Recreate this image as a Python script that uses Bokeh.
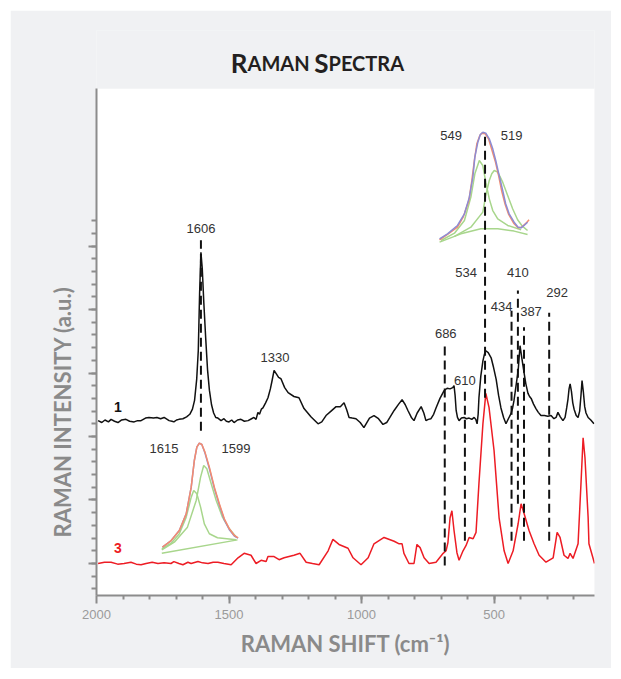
from bokeh.plotting import figure
from bokeh.models import Range1d, FixedTicker, Label, ColumnDataSource, Title, BoxAnnotation
from bokeh.embed import file_html
from bokeh.resources import INLINE
from bokeh.core.properties import value

# ---------------------------------------------------------------------------
# Spectrum 1 (black): Raman shift (cm-1) and intensity (a.u.)
wn_1 = [1994, 1980, 1968, 1955, 1945, 1932, 1919, 1905, 1889, 1875, 1858, 1845,
        1832, 1815, 1802, 1785, 1772, 1758, 1745, 1726, 1715, 1708, 1698, 1689,
        1674, 1660, 1648, 1638, 1630, 1622, 1616, 1611, 1606, 1601, 1595, 1588,
        1581, 1574, 1566, 1558, 1550, 1542, 1530, 1519, 1510, 1500, 1490, 1481,
        1468, 1455, 1442, 1428, 1415, 1406, 1398, 1391, 1385, 1378, 1372, 1362,
        1353, 1344, 1338, 1330, 1322, 1313, 1304, 1290, 1277, 1255, 1236, 1217,
        1191, 1164, 1150, 1134, 1115, 1096, 1080, 1066, 1056, 1047, 1035, 1021,
        1005, 991, 980, 970, 953, 936, 919, 905, 893, 877, 860, 847, 835, 825,
        812, 802, 790, 775, 765, 757, 748, 738, 728, 719, 704, 689, 677, 666,
        656, 651, 647, 643, 638, 632, 623, 613, 604, 594, 584, 575, 569, 564,
        560, 557, 550, 542, 536, 531, 522, 511, 502, 492, 483, 474, 464, 455,
        446, 436, 430, 425, 417, 409, 402, 395, 387, 380, 372, 366, 360, 351,
        342, 333, 323, 310, 297, 285, 274, 266, 259, 250, 240, 232, 226, 221,
        217, 213, 208, 203, 198, 190, 183, 177, 172, 168, 163, 158, 153, 145,
        135, 123]
int_1 = [0.00, -0.03, 0.01, -0.02, 0.02, -0.01, -0.03, 0.01, 0.02, -0.01, -0.02, 0.00,
         0.00, 0.04, 0.05, 0.04, 0.05, 0.03, 0.05, 0.00, -0.01, -0.02, 0.01, 0.02,
         0.03, 0.06, 0.10, 0.18, 0.32, 0.65, 1.10, 2.00, 2.65, 2.40, 1.85, 1.30,
         0.80, 0.48, 0.25, 0.12, 0.05, 0.04, 0.00, 0.03, -0.01, -0.02, 0.01, -0.03,
         0.01, 0.02, -0.01, 0.00, 0.03, 0.05, 0.02, 0.13, 0.10, 0.18, 0.20, 0.28,
         0.36, 0.50, 0.62, 0.79, 0.74, 0.68, 0.66, 0.52, 0.44, 0.38, 0.36, 0.19,
         0.06, -0.05, -0.02, 0.08, 0.15, 0.22, 0.22, 0.28, 0.17, 0.05, 0.04, 0.03,
         -0.03, -0.11, -0.03, 0.04, 0.08, 0.03, -0.06, -0.03, 0.05, 0.16, 0.26, 0.33, 0.25, 0.16,
         0.05, 0.00, 0.12, 0.22, 0.12, 0.00, 0.02, 0.03, 0.10, 0.20, 0.35, 0.47, 0.51, 0.50,
         0.52, 0.55, 0.40, 0.16, 0.05, 0.00, 0.04, 0.05, 0.03, 0.04, 0.02, 0.05, 0.02, -0.05,
         0.10, 0.36, 0.70, 0.94, 1.05, 1.10, 1.07, 0.99, 0.84, 0.65, 0.40, 0.20, 0.05, -0.05,
         0.03, 0.11, 0.20, 0.31, 0.55, 0.79, 1.18, 0.98, 0.76, 0.58, 0.43, 0.38, 0.35, 0.26,
         0.19, 0.13, 0.08, 0.08, 0.07, 0.08, 0.03, 0.05, 0.13, 0.06, 0.00, 0.05, 0.20, 0.34,
         0.50, 0.58, 0.46, 0.28, 0.18, 0.08, 0.05, 0.15, 0.40, 0.63, 0.45, 0.22, 0.12, 0.05,
         0.01, -0.05]
offset_1 = 2.25  # vertical stacking offset of spectrum 1

# Spectrum 3 (red)
wn_3 = [1994, 1970, 1945, 1920, 1896, 1870, 1850, 1832, 1813, 1790,
        1768, 1745, 1719, 1708, 1689, 1674, 1655, 1643, 1617, 1600,
        1579, 1560, 1542, 1519, 1492, 1466, 1443, 1417, 1398, 1379,
        1360, 1353, 1330, 1311, 1292, 1255, 1232, 1209, 1185, 1160,
        1126, 1108, 1085, 1051, 1032, 1002, 975, 953, 915, 877,
        858, 847, 840, 821, 802, 791, 779, 764, 745, 719,
        692, 681, 674, 666, 659, 651, 640, 632, 617, 606,
        594, 579, 568, 557, 542, 531, 519, 500, 481, 462,
        447, 428, 409, 398, 387, 368, 349, 330, 304, 277,
        262, 251, 236, 221, 213, 202, 183, 172, 164, 157,
        145, 142, 127, 121]
int_3 = [0.00, 0.02, 0.02, -0.01, 0.00, 0.02, -0.01, -0.02, 0.00, 0.02,
         0.00, 0.01, 0.00, 0.03, 0.00, -0.02, 0.02, 0.00, 0.03, 0.01,
         0.00, 0.02, 0.02, 0.00, -0.02, 0.09, 0.16, 0.13, 0.00, 0.05,
         0.03, 0.11, 0.11, 0.06, 0.09, 0.13, 0.16, 0.02, 0.00, -0.02,
         0.20, 0.38, 0.30, 0.24, 0.09, -0.02, 0.09, 0.31, 0.41, 0.35,
         0.31, 0.31, 0.16, 0.00, 0.00, 0.30, 0.25, 0.09, 0.00, 0.02,
         0.16, 0.20, 0.33, 0.72, 0.83, 0.52, 0.17, 0.05, 0.20, 0.28,
         0.41, 0.39, 0.49, 1.26, 2.20, 2.68, 2.46, 1.78, 0.72, 0.20,
         0.00, 0.20, 0.63, 0.94, 0.79, 0.52, 0.31, 0.13, 0.02, 0.09,
         0.49, 0.41, 0.13, 0.08, 0.16, 0.08, 0.31, 1.26, 1.98, 1.67,
         0.72, 0.31, 0.09, 0.00]

# Assigned bands (dashed markers) with their vertical extent
band_wn = [1606, 686, 610, 534, 434, 410, 387, 292]
band_top = [5.09, 3.48, 2.76, 6.79, 3.98, 4.30, 3.72, 3.95]
band_bottom = [2.09, -0.03, 0.36, 2.61, 0.36, 0.94, 0.36, 0.36]

# Band labels
label_text = ["1606", "1330", "686", "610", "534", "434", "410", "387", "292"]
label_wn = [1606, 1330, 686, 610, 534, 434, 410, 387, 292]
label_int = [5.28, 3.24, 3.62, 2.88, 4.58, 4.05, 4.58, 3.97, 4.27]
label_dx = [0, 1, 1, 0, -19, -10, 0, 7, 8]

# Peak-fit inset near 534 cm-1: shift (cm-1) and normalised intensity
fitA_env_x = [629, 613, 593, 579, 569, 562, 558, 552, 547, 542, 536, 529, 522, 516,
              509, 502, 496, 489, 479, 471, 465, 459, 452]
fitA_env_v = [0.015, 0.061, 0.138, 0.245, 0.398, 0.581, 0.765, 0.902, 0.973, 0.994,
              0.985, 0.933, 0.841, 0.734, 0.596, 0.459, 0.337, 0.245, 0.168, 0.122,
              0.116, 0.138, 0.168]
fitA_sum_x = [629, 613, 593, 581, 570, 564, 559, 554, 548, 544, 537, 530, 524, 517,
              510, 504, 497, 490, 480, 471, 464, 455, 449]
fitA_sum_v = [0.006, 0.055, 0.122, 0.220, 0.367, 0.551, 0.734, 0.887, 0.963, 0.985,
              0.979, 0.927, 0.835, 0.728, 0.590, 0.453, 0.330, 0.239, 0.159, 0.116,
              0.122, 0.159, 0.190]
fitA_p1_x = [626, 599, 579, 566, 558, 549, 542, 536, 529, 522, 512, 492, 465]
fitA_p1_v = [0.000, 0.067, 0.184, 0.398, 0.612, 0.734, 0.688, 0.535, 0.382, 0.275,
             0.199, 0.138, 0.098]
fitA_p2_x = [599, 566, 542, 536, 529, 524, 519, 512, 502, 492, 482, 472, 462, 452]
fitA_p2_v = [0.037, 0.122, 0.260, 0.413, 0.551, 0.612, 0.642, 0.627, 0.535, 0.413,
             0.291, 0.190, 0.129, 0.092]
fitA_bg_x = [629, 586, 546, 512, 479, 452]
fitA_bg_v = [-0.015, 0.061, 0.107, 0.107, 0.086, 0.055]

# Peak-fit inset near 1606 cm-1
fitB_sum_x = [1665, 1651, 1638, 1627, 1619, 1614, 1610, 1606, 1602, 1597, 1590,
              1582, 1574, 1566, 1558, 1550, 1544]
fitB_sum_v = [0.054, 0.114, 0.205, 0.355, 0.596, 0.837, 0.958, 0.994, 0.982, 0.913,
              0.777, 0.596, 0.446, 0.310, 0.220, 0.160, 0.139]
fitB_env_v = [0.054, 0.114, 0.205, 0.355, 0.596, 0.837, 0.958, 0.994, 0.982, 0.905,
              0.765, 0.585, 0.435, 0.300, 0.212, 0.155, 0.136]
fitB_p1_x = [1666, 1651, 1638, 1627, 1619, 1615, 1610, 1604, 1598, 1590, 1577, 1547]
fitB_p1_v = [0.039, 0.090, 0.175, 0.325, 0.506, 0.566, 0.536, 0.416, 0.265, 0.175,
             0.139, 0.120]
fitB_p2_x = [1666, 1646, 1625, 1611, 1604, 1599, 1594, 1587, 1579, 1569, 1558, 1547]
fitB_p2_v = [0.030, 0.099, 0.235, 0.476, 0.687, 0.792, 0.762, 0.627, 0.476, 0.325,
             0.220, 0.145]
fitB_bg_x = [1666, 1545]
fitB_bg_v = [0.000, 0.120]

inset_labels = ["549", "519", "1615", "1599"]
inset_label_wn = [662, 434, 1745, 1474]
inset_label_int = [6.74, 6.74, 1.81, 1.81]

# where each inset sits on the main axes: (shift_left, shift_right, wn_left, wn_right, int_bottom, int_top)
INSET_A = (630, 451, 707.5, 371.7, 5.087, 6.803)
INSET_B = (1667.3, 1542.0, 1756.6, 1461.0, 0.163, 1.906)

X_LO, X_HI = 2000, 121      # Raman shift axis (reversed)
Y_LO, Y_HI = -0.504, 7.48   # extent of the intensity axis
Y_VIEW_HI = 8.394           # frame runs up into the title band


def place(xs, vs, box):
    lx0, lx1, wx0, wx1, i0, i1 = box
    k = (wx1 - wx0) / (lx1 - lx0)
    return [wx0 + (x - lx0) * k for x in xs], [i0 + v * (i1 - i0) for v in vs]


AXIS_GREY = "#8c8c8c"
PANEL = "#f0f1f3"
FONT = "Liberation Sans"
TITLE_FONT = "Lato"

p = figure(frame_width=498, frame_height=565,
           x_range=Range1d(X_LO, X_HI), y_range=Range1d(Y_LO, Y_VIEW_HI),
           output_backend="svg", toolbar_location=None,
           min_border_left=86, min_border_right=17, min_border_top=20, min_border_bottom=73,
           background_fill_color=PANEL, border_fill_color=PANEL,
           outline_line_color=None)
p.margin = (10, 10, 11, 10)
p.xgrid.visible = False
p.ygrid.visible = False

# white plotting area, grey title band above it
p.add_layout(BoxAnnotation(left=X_LO, right=X_HI, bottom=Y_LO, top=Y_HI,
                           fill_color="#ffffff", fill_alpha=1.0,
                           line_color=None, level="underlay"))
p.add_layout(BoxAnnotation(left=X_LO, right=X_HI, bottom=Y_HI, top=Y_VIEW_HI,
                           fill_color=PANEL, fill_alpha=1.0,
                           line_color=None, level="underlay"))

# axes
p.xaxis.ticker = FixedTicker(ticks=[2000, 1500, 1000, 500],
                             minor_ticks=list(range(1900, 150, -100)))
p.yaxis.ticker = FixedTicker(ticks=[0, 1, 2, 3, 4, 5],
                             minor_ticks=[round(-0.4 + 0.2 * i, 1) for i in range(30)])
p.yaxis.bounds = (Y_LO, Y_HI)
for ax in (p.xaxis, p.yaxis):
    ax.axis_line_color = AXIS_GREY
    ax.axis_line_width = 2
    ax.major_tick_line_color = AXIS_GREY
    ax.major_tick_line_width = 2
    ax.minor_tick_line_color = AXIS_GREY
    ax.minor_tick_line_width = 2
    ax.major_tick_in = 0
    ax.minor_tick_in = 0
    ax.major_tick_out = 8
p.xaxis.minor_tick_out = 4
p.yaxis.minor_tick_out = 5
p.xaxis.major_label_text_font = FONT
p.xaxis.major_label_text_font_size = "13px"
p.xaxis.major_label_text_color = "#9a9a9a"
p.xaxis.major_label_standoff = 6
p.yaxis.major_label_overrides = {i: "" for i in range(6)}
p.yaxis.major_label_text_font_size = "1px"

p.xaxis.axis_label = "RAMAN SHIFT (cm\u207b\u00b9)"
p.xaxis.axis_label_text_font = TITLE_FONT
p.xaxis.axis_label_text_font_size = "22px"
p.xaxis.axis_label_text_font_style = "bold"
p.xaxis.axis_label_text_color = "#8a8a8a"
p.xaxis.axis_label_standoff = 8

p.add_layout(Title(text="RAMAN INTENSITY (a.u.)", align="left", offset=58,
                   standoff=25, text_font=TITLE_FONT, text_font_size="22px",
                   text_font_style="bold", text_color="#8a8a8a"), "left")

# spectra
p.line(wn_1, [v + offset_1 for v in int_1], line_color="#111111", line_width=1.5)
p.line(wn_3, int_3, line_color="#ed1c24", line_width=1.5)

# peak-fit insets
GREEN, BLUE, ORANGE = "#a8d68c", "#8c8cd4", "#f58c6e"
for xs, vs, col in [(fitA_bg_x, fitA_bg_v, GREEN), (fitA_p1_x, fitA_p1_v, GREEN),
                    (fitA_p2_x, fitA_p2_v, GREEN), (fitA_sum_x, fitA_sum_v, ORANGE),
                    (fitA_env_x, fitA_env_v, BLUE)]:
    x, y = place(xs, vs, INSET_A)
    p.line(x, y, line_color=col, line_width=1.5)
for xs, vs, col in [(fitB_bg_x, fitB_bg_v, GREEN), (fitB_p1_x, fitB_p1_v, GREEN),
                    (fitB_p2_x, fitB_p2_v, GREEN), (fitB_sum_x, fitB_env_v, BLUE),
                    (fitB_sum_x, fitB_sum_v, ORANGE)]:
    x, y = place(xs, vs, INSET_B)
    p.line(x, y, line_color=col, line_width=1.5)

# band markers
p.segment(x0=band_wn, y0=band_bottom, x1=band_wn, y1=band_top,
          line_color="#111111", line_width=2, line_dash="9 5")

src = ColumnDataSource(dict(x=label_wn, y=label_int, t=label_text, dx=label_dx))
p.text(x="x", y="y", text="t", x_offset="dx", source=src,
       text_font=value(FONT), text_font_size="13px", text_color="#333333",
       text_align="center", text_baseline="middle")
p.text(x=inset_label_wn, y=inset_label_int, text=inset_labels,
       text_font=value(FONT), text_font_size="13px", text_color="#333333",
       text_align="center", text_baseline="middle")
p.text(x=[1919], y=[2.46], text=["1"], text_font=value(FONT), text_font_size="14px",
       text_font_style="bold", text_color="#111111", text_align="center",
       text_baseline="middle")
p.text(x=[1919], y=[0.25], text=["3"], text_font=value(FONT), text_font_size="14px",
       text_font_style="bold", text_color="#ed1c24", text_align="center",
       text_baseline="middle")

# title in small capitals
for txt, align, xs, size in [("R", "right", 151, "26px"), ("AMAN", "left", 151, "20px"),
                             ("S", "right", 232, "26px"), ("PECTRA", "left", 232, "20px")]:
    p.add_layout(Label(x=xs, y=533, x_units="screen", y_units="screen", text=txt,
                       text_align=align, text_baseline="alphabetic",
                       text_font=TITLE_FONT, text_font_size=size,
                       text_font_style="bold", text_color="#231f20"))

open("out.html", "w").write(file_html(p, INLINE))
